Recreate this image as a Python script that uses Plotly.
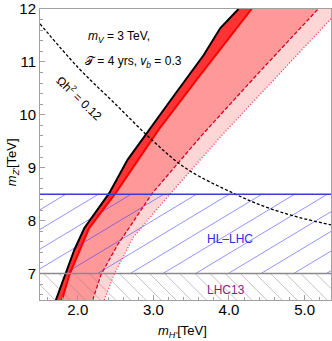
import numpy as np
import plotly.graph_objects as go

# boundary curves, x = m_H' [TeV] read along y = m_Z' [TeV]
black_x = [1.71, 1.78, 1.955, 2.087, 2.416, 2.658, 2.942, 3.23, 3.666, 3.886, 4.126]
black_y = [6.5, 6.76, 7.45, 7.86, 8.52, 9.15, 9.72, 10.28, 11.13, 11.64, 12.0]
red_x = [1.79, 1.89, 2.15, 2.50, 3.07, 3.57, 4.30]
red_y = [6.5, 6.98, 7.86, 8.52, 9.72, 10.66, 12.0]
dashed_x = [2.197, 2.307, 2.53, 2.987, 3.645, 4.41, 5.18]
dashed_y = [6.5, 6.98, 7.55, 8.52, 9.62, 10.82, 12.0]
dotted_x = [2.35, 2.48, 2.74, 3.23, 3.91, 4.63, 5.355, 5.47]
dotted_y = [6.5, 6.98, 7.70, 8.52, 9.62, 10.72, 11.82, 12.0]

# relic density curve
omega_x = [1.5, 2.0, 2.5, 3.0, 3.44, 4.07, 4.5, 4.93, 5.35]
omega_y = [11.72, 10.9, 10.2, 9.5, 8.98, 8.51, 8.25, 8.06, 7.92]

lhc13_limit = 7.0
hllhc_limit = 8.5

xmin, xmax = 1.5, 5.35
ymin, ymax = 6.5, 12.0

fig = go.Figure()


def band(lx, ly, rx, ry, color):
    fig.add_trace(go.Scatter(
        x=list(lx) + list(rx)[::-1], y=list(ly) + list(ry)[::-1],
        mode='lines', fill='toself', fillcolor=color,
        line=dict(width=0), hoverinfo='skip'))


band(dashed_x, dashed_y, dotted_x, dotted_y, '#ffd6d6')
band(red_x, red_y, dashed_x, dashed_y, '#ff9999')
band(black_x, black_y, red_x, red_y, '#ff3333')


def hatch(y_lo, y_hi, slope, y0s, color, width):
    hx, hy = [], []
    for y0 in y0s:
        xa = xmin + (y_lo - y0) / slope
        xb = xmin + (y_hi - y0) / slope
        xa, xb = sorted([xa, xb])
        xa, xb = max(xa, xmin), min(xb, xmax)
        if xa >= xb:
            continue
        hx += [xa, xb, None]
        hy += [y0 + slope * (xa - xmin), y0 + slope * (xb - xmin), None]
    fig.add_trace(go.Scatter(x=hx, y=hy, mode='lines',
                             line=dict(color=color, width=width), hoverinfo='skip'))


# HL-LHC hatch (/) and LHC13 hatch (\)
hatch(lhc13_limit, hllhc_limit, 0.86, 7.09 + 0.372 * np.arange(-14, 4),
      'rgba(40,40,255,0.5)', 1)
hatch(ymin, lhc13_limit, -1.43, 6.5 + 0.286 * np.arange(0, 30),
      'rgba(120,120,120,0.5)', 0.9)

fig.add_hline(y=hllhc_limit, line=dict(color='#3b3bdd', width=1.5))
fig.add_hline(y=lhc13_limit, line=dict(color='#8a8a8a', width=1.5))

fig.add_trace(go.Scatter(x=dotted_x, y=dotted_y, mode='lines',
                         line=dict(color='#ff3355', width=1.3, dash='1px,2px')))
fig.add_trace(go.Scatter(x=dashed_x, y=dashed_y, mode='lines',
                         line=dict(color='#dd0022', width=1.3, dash='4px,2px')))
fig.add_trace(go.Scatter(x=red_x, y=red_y, mode='lines',
                         line=dict(color='#ff0000', width=2)))
fig.add_trace(go.Scatter(x=black_x, y=black_y, mode='lines',
                         line=dict(color='black', width=2)))
fig.add_trace(go.Scatter(x=omega_x, y=omega_y, mode='lines', line_shape='spline',
                         line=dict(color='black', width=1.3, dash='3px,2px')))

txt = dict(family='Liberation Sans, Arial, sans-serif', size=12, color='black')
fig.add_annotation(x=2.11, y=11.48, text='<i>m</i><sub><i>V</i></sub> = 3 TeV,',
                   showarrow=False, xanchor='left', font=txt)
fig.add_annotation(x=2.07, y=11.0, text='𝒯 = 4 yrs, <i>v</i><sub><i>b</i></sub> = 0.3',
                   showarrow=False, xanchor='left', font=txt)
fig.add_annotation(x=2.03, y=10.32, text='Ωh<sup>2</sup> = 0.12', textangle=44,
                   showarrow=False, font=txt)
fig.add_annotation(x=4.02, y=7.65, text='HL\u2013LHC', showarrow=False,
                   font=dict(family=txt['family'], size=12, color='#2b2be0'))
fig.add_annotation(x=3.96, y=6.69, text='LHC13', showarrow=False,
                   font=dict(family=txt['family'], size=12, color='#8b1a8b'))

# axis titles
fig.add_annotation(xref='paper', yref='paper', x=-0.096, y=0.474, textangle=-90,
                   xanchor='center', yanchor='middle',
                   text="<i>m</i><sub><i>Z'</i></sub>[TeV]", showarrow=False,
                   font=dict(family=txt['family'], size=13, color='black'))
fig.add_annotation(xref='paper', yref='paper', x=0.491, y=-0.107,
                   xanchor='center', yanchor='middle',
                   text="<i>m</i><sub><i>H'</i></sub>[TeV]", showarrow=False,
                   font=dict(family=txt['family'], size=13, color='black'))

axis = dict(showgrid=False, zeroline=False, showline=True, mirror=True,
            linecolor='#a0a0a0', linewidth=1, ticks='inside', ticklen=5,
            tickcolor='#a0a0a0', ticklabeloverflow='allow',
            tickfont=dict(family='Liberation Sans, Arial, sans-serif', size=15, color='black'))
fig.update_xaxes(range=[xmin, xmax], tickvals=[2, 3, 4, 5], tickformat='.1f',
                 ticklabelstandoff=-4,
                 minor=dict(ticks='inside', ticklen=3, dtick=0.2, tick0=1.4, tickcolor='#a0a0a0'),
                 **axis)
fig.update_yaxes(range=[ymin, ymax], tickvals=[7, 8, 9, 10, 11, 12],
                 minor=dict(ticks='inside', ticklen=3, dtick=0.2, tick0=6.4, tickcolor='#a0a0a0'),
                 **axis)

fig.update_layout(width=332, height=341, autosize=False, showlegend=False,
                  margin=dict(l=40, r=1, t=9, b=41),
                  plot_bgcolor='white', paper_bgcolor='white')

# drop the browser's default body margin so the figure sits at the page corner
fig.write_html("out.html", config={'displayModeBar': False},
               post_script="document.body.style.margin='0';")
